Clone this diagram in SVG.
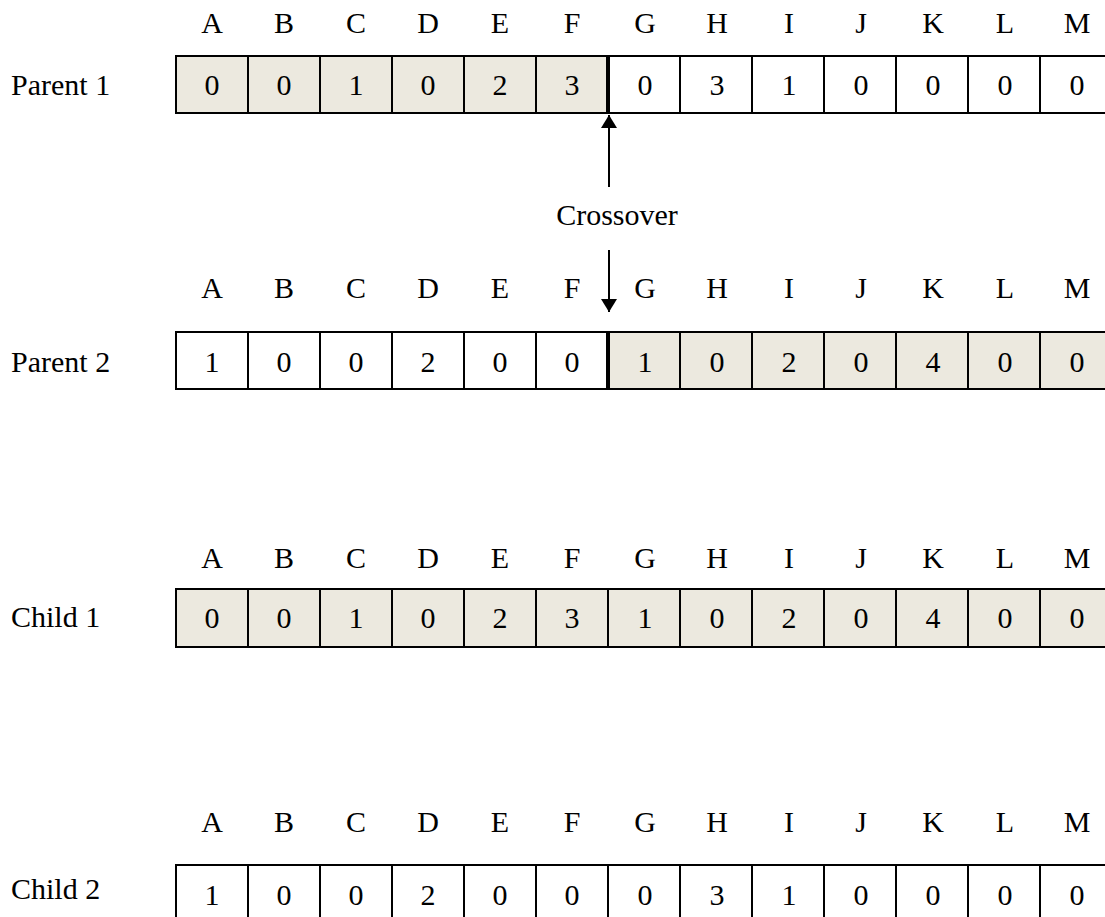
<svg xmlns="http://www.w3.org/2000/svg" width="1105" height="917" viewBox="0 0 1105 917">
<defs>
<style>
text{font-family:"Liberation Serif","Times New Roman",serif;font-size:30px;fill:#000}
.c{text-anchor:middle}
.s{fill:#ECE9DF;stroke:#000;stroke-width:2}
.w{fill:#fff;stroke:#000;stroke-width:2}
.x{stroke:#000;stroke-width:4}
.ar{stroke:#000;stroke-width:2;fill:none}
</style>
<marker id="ah" viewBox="0 0 13 16" refX="13" refY="8" markerWidth="13" markerHeight="16" markerUnits="userSpaceOnUse" orient="auto">
<path d="M0,0 L13,8 L0,16 Z" fill="#000"/>
</marker>
<g id="cols">
<text class="c" x="212" y="0">A</text><text class="c" x="284" y="0">B</text><text class="c" x="356" y="0">C</text><text class="c" x="428" y="0">D</text><text class="c" x="500" y="0">E</text><text class="c" x="572" y="0">F</text><text class="c" x="645" y="0">G</text><text class="c" x="717" y="0">H</text><text class="c" x="789" y="0">I</text><text class="c" x="861" y="0">J</text><text class="c" x="933" y="0">K</text><text class="c" x="1005" y="0">L</text><text class="c" x="1077" y="0">M</text>
</g>
</defs>

<g id="parent1">
<use href="#cols" y="33"/>
<text x="11" y="95">Parent 1</text>
<rect class="s" x="176" y="56" width="72" height="57"/><rect class="s" x="248" y="56" width="72" height="57"/><rect class="s" x="320" y="56" width="72" height="57"/><rect class="s" x="392" y="56" width="72" height="57"/><rect class="s" x="464" y="56" width="72" height="57"/><rect class="s" x="536" y="56" width="72" height="57"/>
<rect class="w" x="608" y="56" width="72" height="57"/><rect class="w" x="680" y="56" width="72" height="57"/><rect class="w" x="752" y="56" width="72" height="57"/><rect class="w" x="824" y="56" width="72" height="57"/><rect class="w" x="896" y="56" width="72" height="57"/><rect class="w" x="968" y="56" width="72" height="57"/><rect class="w" x="1040" y="56" width="73" height="57"/>
<line class="x" x1="608" y1="56" x2="608" y2="113"/>
<g class="c"><text class="c" x="212" y="95">0</text><text class="c" x="284" y="95">0</text><text class="c" x="356" y="95">1</text><text class="c" x="428" y="95">0</text><text class="c" x="500" y="95">2</text><text class="c" x="572" y="95">3</text><text class="c" x="645" y="95">0</text><text class="c" x="717" y="95">3</text><text class="c" x="789" y="95">1</text><text class="c" x="861" y="95">0</text><text class="c" x="933" y="95">0</text><text class="c" x="1005" y="95">0</text><text class="c" x="1077" y="95">0</text></g>
</g>

<g id="parent2">
<use href="#cols" y="298"/>
<text x="11" y="372">Parent 2</text>
<rect class="w" x="176" y="332" width="72" height="57"/><rect class="w" x="248" y="332" width="72" height="57"/><rect class="w" x="320" y="332" width="72" height="57"/><rect class="w" x="392" y="332" width="72" height="57"/><rect class="w" x="464" y="332" width="72" height="57"/><rect class="w" x="536" y="332" width="72" height="57"/>
<rect class="s" x="608" y="332" width="72" height="57"/><rect class="s" x="680" y="332" width="72" height="57"/><rect class="s" x="752" y="332" width="72" height="57"/><rect class="s" x="824" y="332" width="72" height="57"/><rect class="s" x="896" y="332" width="72" height="57"/><rect class="s" x="968" y="332" width="72" height="57"/><rect class="s" x="1040" y="332" width="73" height="57"/>
<line class="x" x1="608" y1="332" x2="608" y2="389"/>
<text class="c" x="212" y="372">1</text><text class="c" x="284" y="372">0</text><text class="c" x="356" y="372">0</text><text class="c" x="428" y="372">2</text><text class="c" x="500" y="372">0</text><text class="c" x="572" y="372">0</text><text class="c" x="645" y="372">1</text><text class="c" x="717" y="372">0</text><text class="c" x="789" y="372">2</text><text class="c" x="861" y="372">0</text><text class="c" x="933" y="372">4</text><text class="c" x="1005" y="372">0</text><text class="c" x="1077" y="372">0</text>
</g>

<g id="child1">
<use href="#cols" y="568"/>
<text x="11" y="627">Child 1</text>
<rect class="s" x="176" y="589" width="72" height="58"/><rect class="s" x="248" y="589" width="72" height="58"/><rect class="s" x="320" y="589" width="72" height="58"/><rect class="s" x="392" y="589" width="72" height="58"/><rect class="s" x="464" y="589" width="72" height="58"/><rect class="s" x="536" y="589" width="72" height="58"/><rect class="s" x="608" y="589" width="72" height="58"/><rect class="s" x="680" y="589" width="72" height="58"/><rect class="s" x="752" y="589" width="72" height="58"/><rect class="s" x="824" y="589" width="72" height="58"/><rect class="s" x="896" y="589" width="72" height="58"/><rect class="s" x="968" y="589" width="72" height="58"/><rect class="s" x="1040" y="589" width="73" height="58"/>
<text class="c" x="212" y="628">0</text><text class="c" x="284" y="628">0</text><text class="c" x="356" y="628">1</text><text class="c" x="428" y="628">0</text><text class="c" x="500" y="628">2</text><text class="c" x="572" y="628">3</text><text class="c" x="645" y="628">1</text><text class="c" x="717" y="628">0</text><text class="c" x="789" y="628">2</text><text class="c" x="861" y="628">0</text><text class="c" x="933" y="628">4</text><text class="c" x="1005" y="628">0</text><text class="c" x="1077" y="628">0</text>
</g>

<g id="child2">
<use href="#cols" y="832"/>
<text x="11" y="899">Child 2</text>
<rect class="w" x="176" y="865" width="72" height="58"/><rect class="w" x="248" y="865" width="72" height="58"/><rect class="w" x="320" y="865" width="72" height="58"/><rect class="w" x="392" y="865" width="72" height="58"/><rect class="w" x="464" y="865" width="72" height="58"/><rect class="w" x="536" y="865" width="72" height="58"/><rect class="w" x="608" y="865" width="72" height="58"/><rect class="w" x="680" y="865" width="72" height="58"/><rect class="w" x="752" y="865" width="72" height="58"/><rect class="w" x="824" y="865" width="72" height="58"/><rect class="w" x="896" y="865" width="72" height="58"/><rect class="w" x="968" y="865" width="72" height="58"/><rect class="w" x="1040" y="865" width="73" height="58"/>
<text class="c" x="212" y="905">1</text><text class="c" x="284" y="905">0</text><text class="c" x="356" y="905">0</text><text class="c" x="428" y="905">2</text><text class="c" x="500" y="905">0</text><text class="c" x="572" y="905">0</text><text class="c" x="645" y="905">0</text><text class="c" x="717" y="905">3</text><text class="c" x="789" y="905">1</text><text class="c" x="861" y="905">0</text><text class="c" x="933" y="905">0</text><text class="c" x="1005" y="905">0</text><text class="c" x="1077" y="905">0</text>
</g>

<g id="crossover">
<text class="c" x="617" y="225">Crossover</text>
</g>

<g id="connectors">
<line class="ar" x1="609" y1="187" x2="609" y2="115" marker-end="url(#ah)"/>
<line class="ar" x1="609" y1="250" x2="609" y2="312" marker-end="url(#ah)"/>
</g>
</svg>
